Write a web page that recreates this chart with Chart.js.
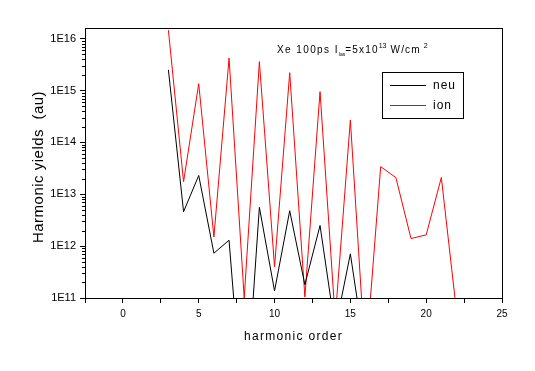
<!DOCTYPE html>
<html>
<head>
<meta charset="utf-8">
<script src="https://cdn.jsdelivr.net/npm/chart.js@4"></script>
<style>
  html, body { margin: 0; padding: 0; background: #fff; }
</style>
</head>
<body>
<canvas id="chart" width="535" height="371"></canvas>
<script>
// harmonic orders and yields (au)
const neuOrders = [3, 4, 5, 6, 7, 8, 9, 10, 11, 12, 13, 14, 15, 16];
const neuYields = [2.5e15, 4.6e12, 2.3e13, 7.3e11, 1.3e12, 3e8, 5.6e12, 1.37e11, 4.8e12, 1.8e11, 2.5e12, 2.5e10, 7.1e11, 8e9];

const ionOrders = [3, 4, 5, 6, 7, 8, 9, 10, 11, 12, 13, 14, 15, 16, 17, 18, 19, 20, 21, 22];
const ionYields = [1.45e16, 1.75e13, 1.35e15, 1.5e12, 4.2e15, 1e11, 3.6e15, 4e11, 2.2e15, 1.05e11, 9.5e14, 4e10, 2.7e14, 6e9, 3.4e13, 2.1e13, 1.4e12, 1.65e12, 2.1e13, 5.5e10];

const xTickValues = [-2.5, 0, 2.5, 5, 7.5, 10, 12.5, 15, 17.5, 20, 22.5, 25];
const yTickValues = [1e11, 1e12, 1e13, 1e14, 1e15, 1e16];

const xTitle = 'harmonic order';
const yTitle = 'Harmonic yields  (au)';

const FONT = 'Arial, "Liberation Sans", sans-serif';

const toPoints = (xs, ys) => xs.map((x, i) => ({ x: x, y: ys[i] }));

const decorations = {
    id: 'decorations',
    afterDraw(chart) {
        const ctx = chart.ctx;
        const area = chart.chartArea;
        const yScale = chart.scales.y;
        ctx.save();
        ctx.strokeStyle = '#000';
        ctx.lineWidth = 1;

        // frame
        ctx.strokeRect(Math.round(area.left) + 0.5, Math.round(area.top) + 0.5,
            Math.round(area.right - area.left), Math.round(area.bottom - area.top));

        // minor ticks of the log axis
        ctx.beginPath();
        for (let n = 11; n <= 16; n++) {
            for (let k = 2; k <= 9; k++) {
                const v = k * Math.pow(10, n);
                if (v > yScale.max) continue;
                const py = Math.round(yScale.getPixelForValue(v)) + 0.5;
                ctx.moveTo(area.left - 3, py);
                ctx.lineTo(area.left, py);
            }
        }
        ctx.stroke();

        ctx.fillStyle = '#000';

        // axis titles (letter spaced like the original)
        ctx.letterSpacing = '1.3px';
        ctx.font = '12px ' + FONT;
        ctx.textAlign = 'center';
        ctx.textBaseline = 'alphabetic';
        ctx.fillText(xTitle, (area.left + area.right) / 2, 339.5);

        ctx.save();
        ctx.translate(43, 167);
        ctx.rotate(-Math.PI / 2);
        ctx.letterSpacing = '0.5px';
        ctx.font = '15px ' + FONT;
        ctx.fillText(yTitle, 0, 0);
        ctx.restore();

        // annotation
        ctx.textAlign = 'left';
        let x = 277;
        const base = 52.5;
        const put = (txt, size, dy, sp) => {
            ctx.letterSpacing = sp + 'px';
            ctx.font = size + 'px ' + FONT;
            ctx.fillText(txt, x, base + dy);
            x += ctx.measureText(txt).width;
        };
        put('Xe 100ps I', 10, 0, 1.4);
        put('las', 5, 3, 0);
        put('=5x10', 10, 0, 1.2);
        put('13', 7, -5, 0);
        put(' W/cm', 10, 0, 1.2);
        x += 3;
        put('2', 7, -5, 0);

        // legend
        ctx.fillStyle = '#fff';
        ctx.fillRect(382, 72, 81, 46);
        ctx.strokeRect(382.5, 72.5, 81, 46);
        const rows = [['neu', '#000', 85.5], ['ion', '#ff0000', 105.5]];
        ctx.letterSpacing = '1px';
        ctx.font = '12px ' + FONT;
        ctx.textBaseline = 'middle';
        rows.forEach(r => {
            ctx.strokeStyle = r[1];
            ctx.beginPath();
            ctx.moveTo(390, r[2]);
            ctx.lineTo(426, r[2]);
            ctx.stroke();
            ctx.fillStyle = '#000';
            ctx.fillText(r[0], 433, r[2]);
        });
        ctx.restore();
    }
};

new Chart(document.getElementById('chart').getContext('2d'), {
    type: 'line',
    data: {
        datasets: [
            {
                label: 'neu',
                data: toPoints(neuOrders, neuYields),
                borderColor: '#000000',
                borderWidth: 1,
                pointRadius: 0,
                tension: 0
            },
            {
                label: 'ion',
                data: toPoints(ionOrders, ionYields),
                borderColor: '#ff0000',
                borderWidth: 1,
                pointRadius: 0,
                tension: 0
            }
        ]
    },
    options: {
        responsive: false,
        animation: false,
        events: [],
        layout: { padding: { top: 28, right: 33, bottom: 0, left: 0 } },
        plugins: {
            legend: { display: false },
            tooltip: { enabled: false }
        },
        scales: {
            x: {
                type: 'linear',
                min: -2.5,
                max: 25,
                afterBuildTicks: s => { s.ticks = xTickValues.map(v => ({ value: v })); },
                afterFit: s => { s.height = 73; },
                ticks: {
                    autoSkip: false,
                    maxRotation: 0,
                    padding: 5,
                    color: '#000',
                    font: { family: FONT, size: 10 },
                    callback: v => (v % 5 === 0 ? String(v) : '')
                },
                grid: { drawOnChartArea: false, tickLength: 5, color: '#000' },
                border: { color: '#000' }
            },
            y: {
                type: 'logarithmic',
                min: 1e11,
                max: 1.6e16,
                afterBuildTicks: s => { s.ticks = yTickValues.map(v => ({ value: v })); },
                afterFit: s => { s.width = 85; },
                ticks: {
                    padding: 4,
                    color: '#000',
                    font: { family: FONT, size: 11 },
                    callback: v => '1E' + Math.round(Math.log10(v))
                },
                grid: { drawOnChartArea: false, tickLength: 5, color: '#000' },
                border: { color: '#000' }
            }
        }
    },
    plugins: [decorations]
});
</script>
</body>
</html>
